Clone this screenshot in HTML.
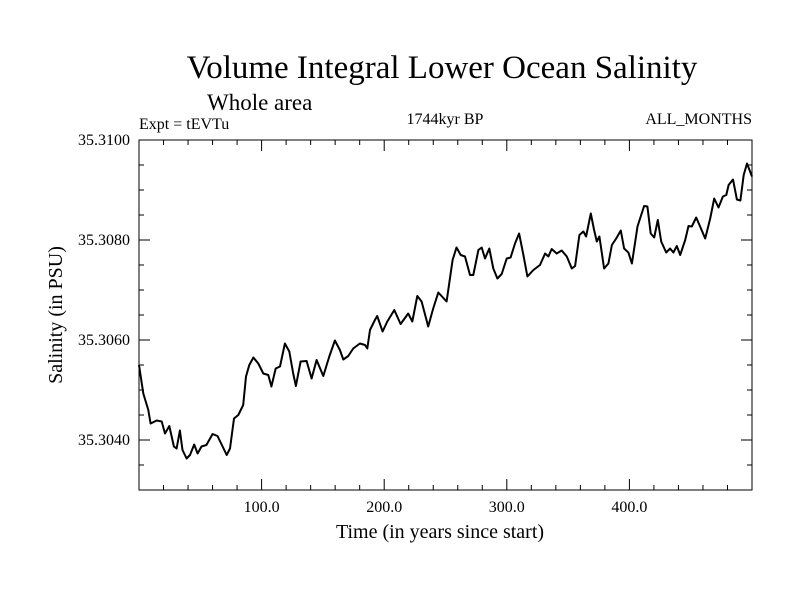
<!DOCTYPE html>
<html><head><meta charset="utf-8"><style>
body{margin:0;background:#fff}
svg{display:block;font-family:"Liberation Serif",serif}
</style></head><body>
<svg id="chart" width="800" height="600">
<rect width="800" height="600" fill="#fff"/>
<text x="442" y="78" font-size="33" text-anchor="middle">Volume Integral Lower Ocean Salinity</text>
<text x="207" y="110" font-size="23">Whole area</text>
<text x="139" y="129" font-size="16">Expt = tEVTu</text>
<text x="445" y="124" font-size="16" text-anchor="middle">1744kyr BP</text>
<text x="752" y="124" font-size="16" text-anchor="end">ALL_MONTHS</text>
<text x="440" y="538" font-size="20" text-anchor="middle">Time (in years since start)</text>
<text transform="translate(62,315) rotate(-90)" font-size="20" text-anchor="middle">Salinity (in PSU)</text>
<g id="axes"></g>
<path id="line" fill="none" stroke="#000" stroke-width="2" stroke-linejoin="round"/>
<rect x="139" y="140" width="613" height="350" fill="none" stroke="#000" stroke-width="1"/>
</svg>
<script>
const years=[0,3.5,7.6,9.5,14.4,18.5,21.2,24.7,28.5,30.7,33.4,35.5,38.8,41.6,45,47.8,51,55,60,64,68.2,71.5,74.2,77.5,81,85,87.3,90,93.3,97.3,101.4,105.5,108,111.5,115,119,122.6,125.8,128,131.8,136.7,140.8,144.9,150.3,155.2,159.8,163.9,166.6,170.7,174.7,180.2,184.3,186.2,188.4,192.4,194.3,198.7,202.5,208.2,213.4,219.6,222.9,227,230.5,235.9,240,244.1,250.9,255.8,259,262.4,265.9,270,272.7,276.8,279.5,282.2,285.7,289,292.3,295.8,299.9,303.1,306.7,310,313.5,316.8,321.7,327.1,331.2,333.9,336.6,340.7,344.8,348.9,353,355.7,359.2,362.5,364.7,368.5,371.2,373.4,375.5,379.4,382.9,385.7,389.2,393,395.7,399.2,402,406.6,412,414.7,417.4,420.2,423.2,425.9,430,433.2,435.9,438.7,441.4,445.5,448.2,450.9,454.5,457.7,461.8,465.9,469.2,472.7,476.3,479,480.9,484.5,487.7,490.5,493.2,495.9,500];
const salinity=[35.3055,35.30493,35.3046,35.30433,35.30439,35.30437,35.30413,35.30428,35.30387,35.30383,35.30419,35.3038,35.30363,35.3037,35.30391,35.30373,35.30387,35.3039,35.30412,35.30408,35.30387,35.3037,35.30383,35.30443,35.3045,35.3047,35.30527,35.3055,35.30565,35.30553,35.30533,35.3053,35.30507,35.30543,35.30547,35.30593,35.30577,35.30533,35.30508,35.30557,35.30558,35.30523,35.3056,35.30528,35.30567,35.30599,35.3058,35.30561,35.30568,35.30583,35.30593,35.3059,35.30583,35.3062,35.3064,35.30648,35.30617,35.30637,35.3066,35.30632,35.30653,35.30637,35.30688,35.30677,35.30627,35.30663,35.30695,35.30677,35.3076,35.30785,35.3077,35.30767,35.3073,35.3073,35.3078,35.30785,35.30763,35.30783,35.30743,35.30723,35.30732,35.30763,35.30765,35.30793,35.30813,35.3077,35.30727,35.3074,35.3075,35.30773,35.30767,35.30782,35.30773,35.30779,35.30767,35.30743,35.30748,35.3081,35.30817,35.30807,35.30853,35.3082,35.30797,35.30807,35.30743,35.30753,35.3079,35.30803,35.30819,35.30783,35.30775,35.30753,35.30827,35.30868,35.30867,35.30813,35.30805,35.3084,35.30797,35.30775,35.30783,35.30775,35.30788,35.3077,35.308,35.30828,35.30827,35.30845,35.30827,35.30803,35.30843,35.30883,35.30865,35.30887,35.3089,35.3091,35.30921,35.30881,35.30879,35.3093,35.30953,35.30927];
const xTicks=[100,200,300,400];
const xTickLabels=["100.0","200.0","300.0","400.0"];
const yTicks=[35.304,35.306,35.308,35.31];
const yTickLabels=["35.3040","35.3060","35.3080","35.3100"];
const X0=139,X1=752,Y0=490,Y1=140;
const xs=v=>X0+(v-0)/(500-0)*(X1-X0);
const ys=v=>Y0-(v-35.303)/(35.310-35.303)*(Y0-Y1);
const NS='http://www.w3.org/2000/svg';
const ax=document.getElementById('axes');
function ln(x1,y1,x2,y2){const l=document.createElementNS(NS,'line');l.setAttribute('x1',x1);l.setAttribute('y1',y1);l.setAttribute('x2',x2);l.setAttribute('y2',y2);l.setAttribute('stroke','#000');l.setAttribute('stroke-width','1');


ax.appendChild(l);}
function tx(x,y,s,anchor){const t=document.createElementNS(NS,'text');t.setAttribute('x',x);t.setAttribute('y',y);t.setAttribute('font-size','16');t.setAttribute('text-anchor',anchor);t.textContent=s;


ax.appendChild(t);}
for(let v=20;v<500;v+=20){const x=xs(v);const L=(v%100===0)?11:5;ln(x,Y0,x,Y0-L);ln(x,Y1,x,Y1+L);}
for(let v=35.3035;v<35.30999;v+=0.0005){const y=ys(v);const maj=Math.abs(Math.round(v*1000)/1000-v)<1e-7&&Math.round(v*10000)%20===0;const L=maj?11:5;ln(X0,y,X0+L,y);ln(X1,y,X1-L,y);}
xTicks.forEach((v,i)=>tx(xs(v),512,xTickLabels[i],'middle'));
yTicks.forEach((v,i)=>tx(130,ys(v)+5,yTickLabels[i],'end'));
document.getElementById('line').setAttribute('d',years.map((y,i)=>(i?'L':'M')+xs(y).toFixed(1)+','+ys(salinity[i]).toFixed(1)).join(''));
</script>
</body></html>
